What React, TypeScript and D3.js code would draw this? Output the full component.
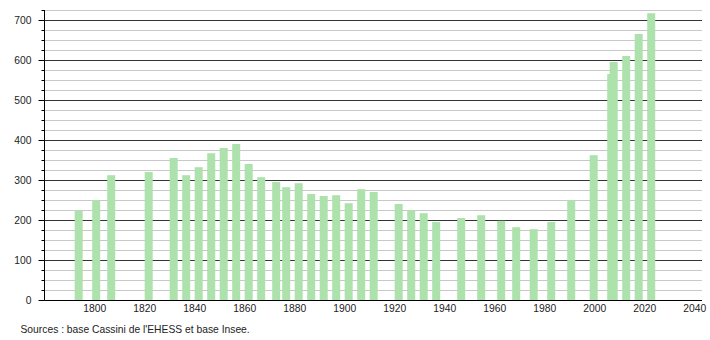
import React from "react";
import * as d3 from "d3";

const years = [1793, 1800, 1806, 1821, 1831, 1836, 1841, 1846, 1851, 1856, 1861, 1866, 1872, 1876, 1881, 1886, 1891, 1896, 1901, 1906, 1911, 1921, 1926, 1931, 1936, 1946, 1954, 1962, 1968, 1975, 1982, 1990, 1999, 2006, 2007, 2012, 2017, 2022];
const population = [224, 250, 312, 320, 355, 312, 332, 367, 380, 390, 340, 307, 295, 282, 292, 265, 260, 262, 242, 277, 270, 240, 225, 217, 195, 205, 212, 198, 182, 177, 195, 250, 362, 565, 595, 610, 665, 717];
const xTicks = [1800, 1820, 1840, 1860, 1880, 1900, 1920, 1940, 1960, 1980, 2000, 2020, 2040];
const yMajor = [0, 100, 200, 300, 400, 500, 600, 700];
const sourceText = "Sources : base Cassini de l'EHESS et base Insee.";

export default function App() {
  const x = d3.scaleLinear().domain([1780, 2040]).range([44.7, 694.7]);
  const y = d3.scaleLinear().domain([0, 700]).range([300, 20]);
  const minor = d3.range(0, 726, 25);
  const left = 44.5;
  const right = 702;
  const barW = 8;
  const fs = 10.3;
  return (
    <svg width={710} height={340} style={{ position: "absolute", left: 0, top: 0 }}
      fontFamily="'Liberation Sans', Arial, sans-serif">
      <rect width={710} height={340} fill="#fff" />
      {minor.filter((v) => v % 100 !== 0).map((v) => (
        <g key={"m" + v}>
          <line x1={left} x2={right} y1={Math.round(y(v)) + 0.5} y2={Math.round(y(v)) + 0.5} stroke="#c8c8c8" strokeWidth={1} />
          <line x1={left - 3} x2={left} y1={Math.round(y(v)) + 0.5} y2={Math.round(y(v)) + 0.5} stroke="#000" strokeWidth={1} />
        </g>
      ))}
      {yMajor.filter((v) => v > 0).map((v) => (
        <line key={"g" + v} x1={left} x2={right} y1={Math.round(y(v)) + 0.5} y2={Math.round(y(v)) + 0.5} stroke="#333" strokeWidth={1} />
      ))}
      {years.map((yr, i) => (
        <rect key={yr} x={x(yr) - barW / 2 + 1.5} y={y(population[i])} width={barW} height={y(0) - y(population[i])} fill="#ade2ad" />
      ))}
      {yMajor.map((v) => (
        <g key={"t" + v}>
          <line x1={left - 6} x2={left} y1={Math.round(y(v)) + 0.5} y2={Math.round(y(v)) + 0.5} stroke="#000" strokeWidth={1} />
          <text x={31.5} y={y(v) + 4} textAnchor="end" fontSize={fs} fill="#222">{v}</text>
        </g>
      ))}
      <line x1={left} x2={left} y1={10} y2={300.5} stroke="#000" strokeWidth={1} />
      <line x1={left} x2={right} y1={300.5} y2={300.5} stroke="#000" strokeWidth={1} />
      {xTicks.map((t) => (
        <text key={"x" + t} x={x(t)} y={312} textAnchor="middle" fontSize={fs} fill="#222">{t}</text>
      ))}
      <text x={20.5} y={333} fontSize={fs} fill="#222">{sourceText}</text>
    </svg>
  );
}
